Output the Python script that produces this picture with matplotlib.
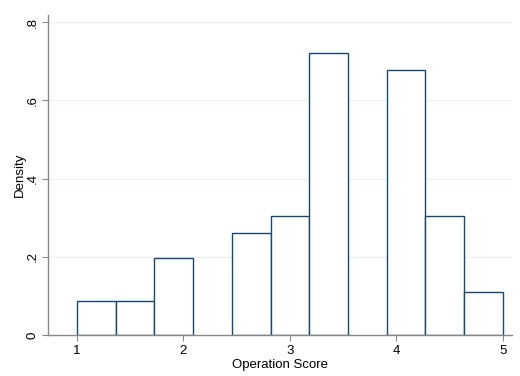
import matplotlib.pyplot as plt
import numpy as np

plt.rcParams['font.family'] = ['Liberation Sans', 'DejaVu Sans']

# histogram: 11 bins between 1 and 5
bin_start = 1.0
bin_end = 5.0
n_bins = 11
densities = [0.087, 0.087, 0.196, 0.0, 0.262, 0.305, 0.720, 0.0, 0.677, 0.305, 0.109]

x_ticks = [1, 2, 3, 4, 5]
y_ticks = [0, 0.2, 0.4, 0.6, 0.8]
y_tick_labels = ['0', '.2', '.4', '.6', '.8']

edges = np.linspace(bin_start, bin_end, n_bins + 1)
width = edges[1] - edges[0]

fig = plt.figure(figsize=(5.2, 3.76), dpi=100)
ax = fig.add_axes([0.0923, 0.109, 0.8923, 0.851])

for y in y_ticks[1:]:
    ax.axhline(y, color='#eaf2f3', lw=1.0, zorder=0)

for left, h in zip(edges[:-1], densities):
    if h > 0:
        ax.bar(left, h, width, align='edge', color='white',
               edgecolor='#1a476f', linewidth=1.0, zorder=2)

ax.set_xlim(0.728, 5.085)
ax.set_ylim(0, 0.818)
ax.set_xticks(x_ticks)
ax.set_yticks(y_ticks)
ax.set_yticklabels(y_tick_labels, rotation=90, va='center')

for s in ['top', 'right']:
    ax.spines[s].set_visible(False)
for s in ['left', 'bottom']:
    ax.spines[s].set_color('#888888')
    ax.spines[s].set_linewidth(1.0)
ax.tick_params(colors='#888888', labelcolor='black', labelsize=9.5, length=4, width=0.8)
ax.tick_params(axis='y', pad=2.5)

ax.set_xlabel('Operation Score', fontsize=9.5, labelpad=1)
ax.set_ylabel('Density', fontsize=9.5, labelpad=1)

fig.savefig('out.png', dpi=100, facecolor='white')
